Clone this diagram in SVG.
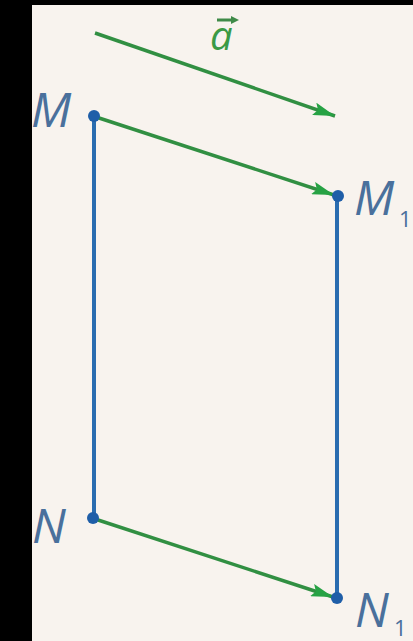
<svg xmlns="http://www.w3.org/2000/svg" width="413" height="641" viewBox="0 0 413 641">
<defs>
<marker id="ah" viewBox="0 0 22 13" refX="22" refY="6.5" markerWidth="22" markerHeight="13" markerUnits="userSpaceOnUse" orient="auto">
<path d="M0,0 L22,6.5 L0,13 L4,6.5 Z" fill="#27a244"/>
</marker>
<style>
.bl{stroke:#2a6cb0;stroke-width:4;fill:none}
.gr{stroke:#318f42;stroke-width:3.5;fill:none}
.dot{fill:#1f5ea8}
.lab{font-family:"Open Sans","Liberation Sans",sans-serif;font-style:italic;fill:#4a709c}
.sub{font-family:"Open Sans","Liberation Sans",sans-serif;fill:#4a709c;font-size:22px}
</style>
</defs>
<rect x="0" y="0" width="413" height="641" fill="#000"/>
<rect x="32" y="5" width="381" height="636" fill="#f8f3ee"/>
<g id="connectors">
<line class="bl" x1="94" y1="116" x2="94" y2="518"/>
<line class="bl" x1="337" y1="196" x2="337" y2="598"/>
<line class="gr" x1="95" y1="33" x2="335" y2="116" marker-end="url(#ah)"/>
<line class="gr" x1="96" y1="117" x2="334" y2="195" marker-end="url(#ah)"/>
<line class="gr" x1="95" y1="519" x2="333" y2="597" marker-end="url(#ah)"/>
</g>
<g id="vec-a">
<text class="lab" x="210" y="50" font-size="40" style="fill:#3a9a45">a</text>
<path d="M217,20 L233,20" stroke="#3f8a48" stroke-width="3"/>
<path d="M231,16 L239,20 L231,24 Z" fill="#3f8a48"/>
</g>
<g id="M"><circle class="dot" cx="94" cy="116" r="6"/><text class="lab" x="31" y="127" font-size="48">M</text></g>
<g id="M1"><circle class="dot" cx="338" cy="196" r="6"/><text class="lab" x="354" y="215" font-size="48">M</text><text class="sub" x="399" y="227">1</text></g>
<g id="N"><circle class="dot" cx="93" cy="518" r="6"/><text class="lab" x="32" y="543" font-size="48">N</text></g>
<g id="N1"><circle class="dot" cx="337" cy="598" r="6"/><text class="lab" x="355" y="627" font-size="48">N</text><text class="sub" x="394" y="636">1</text></g>
</svg>
